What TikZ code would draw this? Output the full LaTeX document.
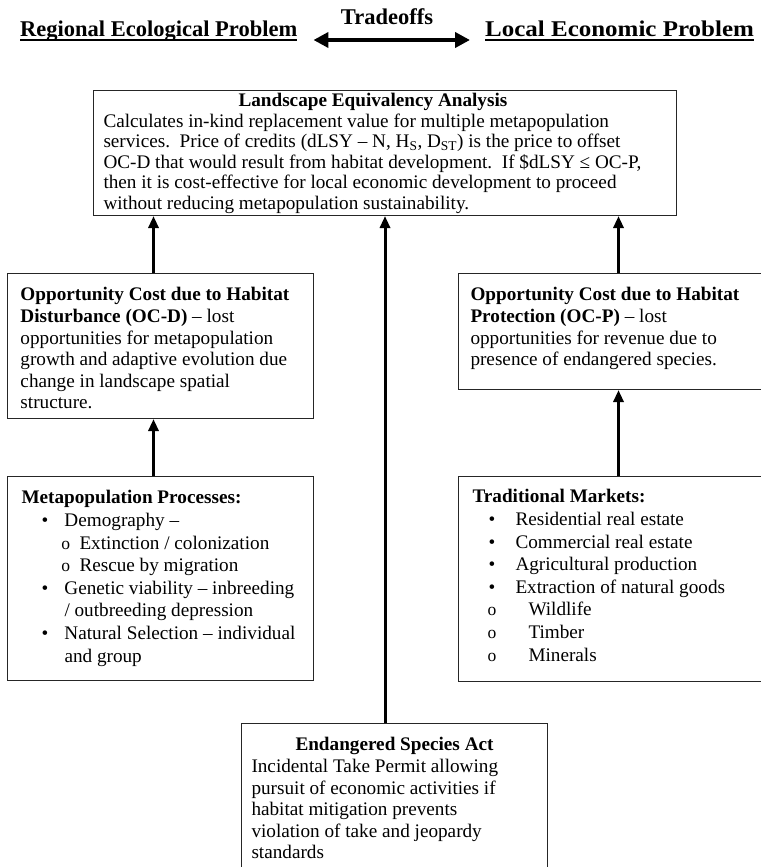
\documentclass[tikz,border=0pt]{standalone}
\usepackage{fontspec}
\usepackage{graphicx}
\setmainfont{Liberation Serif}
\usetikzlibrary{arrows.meta}

% box body: width, height, top gap, left gap, text
\newcommand{\panel}[5]{\parbox[c][#2][t]{#1}{\leftskip=#4\rightskip=0pt plus 1fil\relax\vspace*{#3}#5}}
\newcommand{\dotline}[2]{\hspace*{#1}\makebox[#2][l]{\textbullet}}
\newcommand{\ringline}[2]{\hspace*{#1}\makebox[#2][l]{\fontsize{17.5}{17.5}\selectfont o}}

\begin{document}
\begin{tikzpicture}[x=1pt,y=-1pt,
  pbox/.style={draw=black!85,line width=1pt,anchor=north west,inner sep=0pt,
    font=\fontsize{19.2}{21.6}\selectfont},
  listbox/.style={pbox,font=\fontsize{19.2}{22.6}\selectfont},
  head/.style={inner sep=0pt,font=\fontsize{22.5}{25}\selectfont\bfseries},
  arr/.style={line width=3pt,-{Triangle[width=10pt,length=12pt]}},
  twoway/.style={line width=4pt,{Triangle[width=15pt,length=15pt]}-{Triangle[width=15pt,length=15pt]}}]
\useasboundingbox (0,0) rectangle (760,867);

% top line
\node[head,anchor=base west] (reg) at (20,37) {Regional Ecological Problem};
\node[head,anchor=base west] (loc) at (485,37) {\scalebox{1.11}[1]{Local Economic Problem}};
\node[head,anchor=base] (trade) at (387,25) {Tradeoffs};
\draw[line width=1.5pt] ([yshift=-3pt]reg.base west) -- ([yshift=-3pt]reg.base east);
\draw[line width=1.5pt] ([yshift=-3pt]loc.base west) -- ([yshift=-3pt]loc.base east);
\draw[twoway] ([xshift=16pt,yshift=-3pt]reg.base east) -- ([xshift=-15pt,yshift=-3pt]loc.base west);

% boxes
\node[pbox,font=\fontsize{19.2}{20.5}\selectfont] (lea) at (93,90) {\panel{583pt}{125pt}{3pt}{10pt}{%
\hspace*{135pt}\textbf{Landscape Equivalency Analysis}\\
Calculates in-kind replacement value for multiple metapopulation\\
services.\ \ Price of credits (dLSY – N, H\textsubscript{S}, D\textsubscript{ST}) is the price to offset\\
OC-D that would result from habitat development.\ \ If \$dLSY ≤ OC-P,\\
then it is cost-effective for local economic development to proceed\\
without reducing metapopulation sustainability.}};

\node[pbox] (ocd) at (7,273) {\panel{306pt}{145pt}{14pt}{13pt}{%
\textbf{Opportunity Cost due to Habitat}\\
\textbf{Disturbance (OC-D)} – lost\\
opportunities for metapopulation\\
growth and adaptive evolution due\\
change in landscape spatial\\
structure.}};

\node[pbox] (ocp) at (458,273) {\panel{320pt}{116pt}{14pt}{12pt}{%
\textbf{Opportunity Cost due to Habitat}\\
\textbf{Protection (OC-P)} – lost\\
opportunities for revenue due to\\
presence of endangered species.}};

\node[listbox] (meta) at (7,476) {\panel{306pt}{204pt}{14pt}{14pt}{%
\textbf{Metapopulation Processes:}\\
\dotline{20pt}{23pt}Demography –\\
\ringline{40pt}{18pt}Extinction / colonization\\
\ringline{40pt}{18pt}Rescue by migration\\
\dotline{20pt}{23pt}Genetic viability – inbreeding\\
\hspace*{43pt}/ outbreeding depression\\
\dotline{20pt}{23pt}Natural Selection – individual\\
\hspace*{43pt}and group}};

\node[listbox] (tm) at (458,476) {\panel{320pt}{205pt}{13pt}{14pt}{%
\textbf{Traditional Markets:}\\
\dotline{16pt}{27pt}Residential real estate\\
\dotline{16pt}{27pt}Commercial real estate\\
\dotline{16pt}{27pt}Agricultural production\\
\dotline{16pt}{27pt}Extraction of natural goods\\
\ringline{15pt}{41pt}Wildlife\\
\ringline{15pt}{41pt}Timber\\
\ringline{15pt}{41pt}Minerals}};

\node[pbox] (esa) at (241,723) {\panel{306pt}{170pt}{14pt}{10pt}{%
\hspace*{44pt}\textbf{Endangered Species Act}\\
Incidental Take Permit allowing\\
pursuit of economic activities if\\
habitat mitigation prevents\\
violation of take and jeopardy\\
standards}};

% arrows
\draw[arr] ([xshift=-7pt]ocd.north) -- ([xshift=-7pt]ocd.north |- lea.south);
\draw[arr] ([xshift=-7pt]meta.north) -- ([xshift=-7pt]ocd.south);
\draw[arr] (ocp.north) -- (ocp.north |- lea.south);
\draw[arr] (tm.north) -- (ocp.south);
\draw[arr] (esa.north -| lea.south) -- (lea.south);
\end{tikzpicture}
\end{document}
